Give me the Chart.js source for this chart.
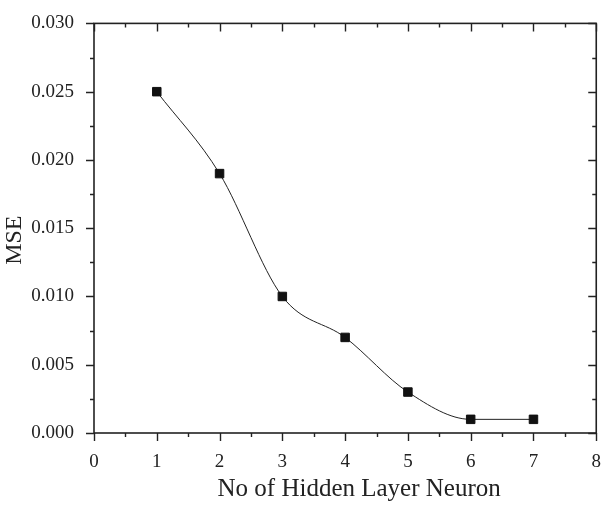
<!DOCTYPE html>
<html>
<head>
<meta charset="utf-8">
<script src="https://cdn.jsdelivr.net/npm/chart.js@4.4.1/dist/chart.umd.min.js"></script>
<style>
  html, body { margin: 0; padding: 0; background: #fff; }
  #wrap { width: 611px; height: 505px; }
</style>
</head>
<body>
<div id="wrap"><canvas id="chart"></canvas></div>
<script>
// Data
const neurons = [1, 2, 3, 4, 5, 6, 7];
const mse = [0.025, 0.019, 0.010, 0.007, 0.003, 0.001, 0.001];

// Axis settings
const xMin = 0, xMax = 8, xMajor = 1, xMinor = 0.5;
const yMin = 0, yMax = 0.030, yMajor = 0.005, yMinor = 0.0025;
const xTitle = 'No of Hidden Layer Neuron';
const yTitle = 'MSE';

const serif = '"Liberation Serif", "Times New Roman", serif';

/**
 * Draws the box frame, inner/outer tick marks and the axis titles.
 */
const framePlugin = {
    id: 'frame',
    afterDraw(chart) {
        const { ctx, chartArea: a, scales: { x, y } } = chart;
        ctx.save();
        ctx.strokeStyle = '#222';
        ctx.lineWidth = 1.6;
        ctx.strokeRect(a.left, a.top, a.right - a.left, a.bottom - a.top);

        ctx.lineWidth = 1.4;
        ctx.beginPath();
        // x ticks: outward at bottom, inward at top
        for (let v = xMin; v <= xMax + 1e-9; v += xMinor) {
            const px = Math.round(x.getPixelForValue(v)) + 0.5;
            const len = Math.abs(v % xMajor) < 1e-9 ? 8 : 4;
            ctx.moveTo(px, a.bottom); ctx.lineTo(px, a.bottom + len);
            ctx.moveTo(px, a.top); ctx.lineTo(px, a.top + len);
        }
        // y ticks: outward at left, inward at right
        for (let i = 0; i <= Math.round((yMax - yMin) / yMinor); i++) {
            const v = yMin + i * yMinor;
            const py = Math.round(y.getPixelForValue(v)) + 0.5;
            const len = i % 2 === 0 ? 8 : 4;
            ctx.moveTo(a.left, py); ctx.lineTo(a.left - len, py);
            ctx.moveTo(a.right, py); ctx.lineTo(a.right - len, py);
        }
        ctx.stroke();

        // axis titles
        ctx.fillStyle = '#222';
        ctx.font = '25px ' + serif;
        ctx.textAlign = 'center';
        ctx.textBaseline = 'middle';
        ctx.fillText(xTitle, (a.left + a.right) / 2 + 14, 489);
        ctx.font = '24px ' + serif;
        ctx.translate(15, (a.top + a.bottom) / 2 + 12);
        ctx.rotate(-Math.PI / 2);
        ctx.fillText(yTitle, 0, 0);
        ctx.restore();
    }
};

const ctx = document.getElementById('chart').getContext('2d');
new Chart(ctx, {
    type: 'line',
    data: {
        labels: neurons,
        datasets: [{
            data: neurons.map((n, i) => ({ x: n, y: mse[i] })),
            borderColor: '#222',
            borderWidth: 1,
            cubicInterpolationMode: 'monotone',
            pointStyle: 'rect',
            pointRadius: 6,
            pointBorderWidth: 1,
            pointBackgroundColor: '#111',
            pointBorderColor: '#111',
            fill: false
        }]
    },
    options: {
        responsive: true,
        maintainAspectRatio: false,
        animation: false,
        layout: { padding: { top: 19, right: 6, left: 0, bottom: 0 } },
        plugins: {
            legend: { display: false },
            tooltip: { enabled: false }
        },
        scales: {
            x: {
                type: 'linear',
                min: xMin,
                max: xMax,
                grid: { display: false },
                border: { display: false },
                ticks: {
                    stepSize: xMajor,
                    padding: 10,
                    color: '#222',
                    font: { family: serif, size: 19 }
                },
                afterFit(scale) { scale.height = 72; }
            },
            y: {
                min: yMin,
                max: yMax,
                grid: { display: false },
                border: { display: false },
                ticks: {
                    stepSize: yMajor,
                    padding: 12,
                    color: '#222',
                    font: { family: serif, size: 19 },
                    callback: v => v.toFixed(3)
                },
                afterFit(scale) { scale.width = 94; }
            }
        }
    },
    plugins: [framePlugin]
});
</script>
</body>
</html>
